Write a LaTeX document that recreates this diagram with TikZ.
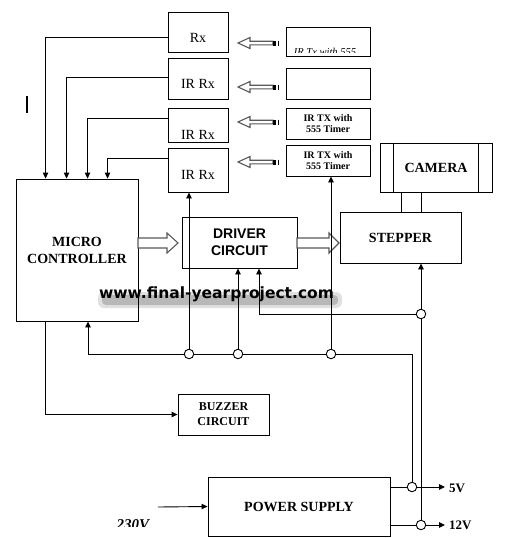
\documentclass[tikz,border=0pt]{standalone}
\usepackage{fontspec}
\setmainfont{Liberation Serif}
\newfontfamily\arialfont{Liberation Sans}
\newfontfamily\wmfont{DejaVu Sans}
\usetikzlibrary{arrows.meta}

\tikzset{
  blk/.style={draw, line width=0.9pt, inner sep=0pt, align=center},
  rxbox/.style={blk, minimum width=60pt},
  txbox/.style={blk, minimum width=84pt},
  rxlbl/.style={font=\fontsize{14}{16}\selectfont},
  bigtxt/.style={font=\fontsize{14}{17}\selectfont\bfseries},
  txtxt/.style={font=\fontsize{10}{11}\selectfont\bfseries},
  sig/.style={line width=0.9pt, -{Triangle[length=6pt,width=5.5pt]}},
  wire/.style={line width=0.9pt},
  jn/.style={circle, draw, fill=white, line width=0.9pt, minimum size=9.5pt, inner sep=0pt},
  harrow/.style={draw=black!65, line width=1.1pt, fill=white},
}
% hollow arrow: x start, x tip, y, head length, half shaft, half head
\newcommand{\hollowarrow}[6]{%
  \draw[harrow] ({#1},{#3-#5}) -- ({#2-(#4)},{#3-#5}) -- ({#2-(#4)},{#3-#6}) -- ({#2},{#3})
    -- ({#2-(#4)},{#3+#6}) -- ({#2-(#4)},{#3+#5}) -- ({#1},{#3+#5}) -- cycle;}

\begin{document}
\begin{tikzpicture}[x=1pt, y=-1pt]
\useasboundingbox (0,0) rectangle (522,538);

% watermark
\fill[black, opacity=0.12, rounded corners=6pt] (98,292) rectangle (342,308);
\fill[black, opacity=0.18, rounded corners=4pt] (102,295) rectangle (338,305);
\node[font=\fontsize{15.5}{17}\selectfont\wmfont\bfseries, anchor=base] (wm) at (216.5,298) {www.final-yearproject.com};

% stray mark
\draw[line width=1.8pt] (27,96) -- (27,113);

% Receivers
\node[rxbox, minimum height=40pt, label={[rxlbl, yshift=-6pt]center:Rx}] (rxa) at (198,32) {};
\node[rxbox, minimum height=41pt, label={[rxlbl, yshift=-5.5pt]center:IR Rx}] (rxb) at (198,78.5) {};
\node[rxbox, minimum height=34pt, label={[rxlbl, yshift=-9.5pt]center:IR Rx}] (rxc) at (198,125) {};
\node[rxbox, minimum height=44pt, label={[rxlbl, yshift=-5pt]center:IR Rx}] (rxd) at (198,170) {};

% Transmitters
\node[txbox, minimum height=29pt] (txa) at (328,41.5) {};
\begin{scope}
  \clip (286,27) rectangle (370,52.5);
  \node[font=\fontsize{10.5}{12}\selectfont\itshape, anchor=base] (txatext) at (325,55.5) {IR Tx with 555};
\end{scope}
\node[txbox, minimum height=31pt] (txb) at (328,83.5) {};
\node[txbox, txtxt, minimum height=31pt] (txc) at (328,123.5) {IR TX with\\555 Timer};
\node[txbox, txtxt, minimum height=31pt] (txd) at (328,160.5) {IR TX with\\555 Timer};

% IR links
\foreach \y in {43,87,122,162} {
  \hollowarrow{273}{238}{\y}{-12}{1.8}{5.5}
  \fill (273,{\y-2.5}) rectangle (276,{\y+2.5});
  \draw[line width=1.2pt] (278.5,{\y-2.5}) -- (278.5,{\y+2.5});
}

% Main blocks
\node[blk, bigtxt, minimum width=122pt, minimum height=142pt] (mc) at (77,250) {MICRO\\CONTROLLER};
\node[blk, font=\fontsize{14}{17}\selectfont\arialfont\bfseries, minimum width=115pt, minimum height=51pt] (drv) at (239.5,242.5) {DRIVER\\CIRCUIT};
\node[blk, bigtxt, minimum width=121pt, minimum height=51pt] (stp) at (400.5,237.5) {STEPPER};
\node[blk, bigtxt, minimum width=112pt, minimum height=49pt] (cam) at (436,167.5) {CAMERA};
\node[blk, font=\fontsize{12}{15}\selectfont\bfseries, minimum width=91pt, minimum height=41pt] (bz) at (223.5,414.5) {BUZZER\\CIRCUIT};
\node[blk, bigtxt, minimum width=182pt, minimum height=59pt] (ps) at (299,506.5) {POWER SUPPLY};

% Camera frame
\draw[wire] ([xshift=14pt]cam.north west) -- ([xshift=14pt]cam.south west);
\draw[wire] ([xshift=-14pt]cam.north east) -- ([xshift=-14pt]cam.south east);
\draw[wire] ([xshift=-35pt]cam.south) -- ([xshift=-35pt]cam.south |- stp.north);
\draw[wire] ([xshift=-15pt]cam.south) -- ([xshift=-15pt]cam.south |- stp.north);

% Data paths
\hollowarrow{138}{178}{243}{11}{5}{10}
\hollowarrow{297}{339}{243}{10}{5}{10}

% Receiver outputs
\draw[sig] ([yshift=-5pt]rxa.west) -| ([xshift=30pt]mc.north west);
\draw[sig] ([yshift=1.5pt]rxb.west) -| ([xshift=51pt]mc.north west);
\draw[sig] ([yshift=7pt]rxc.west) -| ([xshift=72pt]mc.north west);
\draw[sig] ([yshift=12pt]rxd.west) -| ([xshift=92pt]mc.north west);

% Buzzer
\draw[sig] ([xshift=30pt]mc.south west) |- (bz.west);

% Supply junctions
\node[jn] (j1) at (189,354) {};
\node[jn] (j2) at (238,354) {};
\node[jn] (j3) at (331,354) {};
\node[jn] (j4) at (421,314) {};
\node[jn] (j5) at (412,487) {};
\node[jn] (j6) at (421,525) {};
\coordinate (bus) at (412,354);
\coordinate (busl) at (88,354);

% 5V rail
\draw[wire] (j5) -- (bus) -- (j3);
\draw[wire] (j3) -- (j2);
\draw[wire] (j2) -- (j1);
\draw[sig] (j1) -- (busl) -- (busl |- mc.south);
\draw[sig] (j1) -- (j1 |- rxd.south);
\draw[sig] (j2) -- (j2 |- drv.south);
\draw[sig] (j3) -- (j3 |- txd.south);

% 12V rail
\draw[sig] (j4) -| ([xshift=19.5pt]drv.south);
\draw[sig] (j4) -- (j4 |- stp.south);
\draw[wire] (j6) -- (j4);

% Supply outputs
\node[font=\fontsize{13}{15}\selectfont\bfseries, anchor=west, inner sep=4pt] (v5) at (445,488) {5V};
\node[font=\fontsize{13}{15}\selectfont\bfseries, anchor=west, inner sep=4pt] (v12) at (445,525) {12V};
\draw[wire] (ps.east |- j5) -- (j5);
\draw[wire] (ps.east |- j6) -- (j6);
\draw[sig] (j5) -- (v5.west |- j5);
\draw[sig] (j6) -- (v12.west |- j6);

% Mains input
\coordinate (ac) at (158,507);
\draw[sig] (ac) -- (ps.west);
\begin{scope}
  \clip (100,500) rectangle (170,526.5);
  \node[font=\fontsize{15}{17}\selectfont\bfseries\itshape, anchor=base] (v230) at (133,529) {230V};
\end{scope}
\end{tikzpicture}
\end{document}
